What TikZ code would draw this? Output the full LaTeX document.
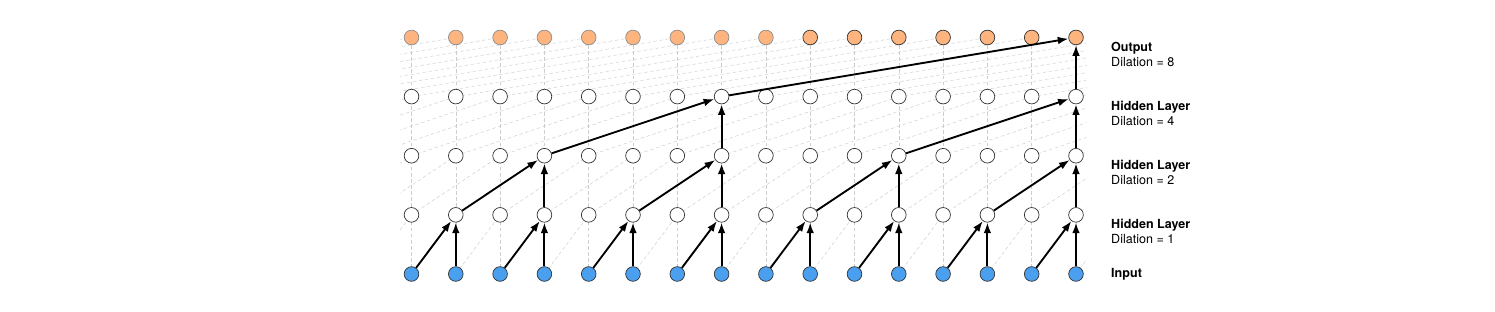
\documentclass[tikz,border=0pt]{standalone}
\usepackage{fontspec}
\setmainfont{TeX Gyre Heros}
\usetikzlibrary{arrows.meta}
\definecolor{inblue}{HTML}{4A9FEE}
\definecolor{outorange}{HTML}{FDB47F}
\definecolor{gridgray}{HTML}{CDCDCD}
\definecolor{rimgray}{HTML}{8C8C8C}
\definecolor{rimdark}{HTML}{333333}
\begin{document}
\begin{tikzpicture}[font=\fontsize{10.7}{12.8}\selectfont,>={Latex[length=3.2mm,width=2.3mm]},
 unit/.style={draw=rimdark,circle,line width=.6pt,minimum size=.44cm,inner sep=0pt,fill=white},
 inunit/.style={unit,fill=inblue},
 outunit/.style={unit,fill=outorange},
 grid line/.style={gridgray,line width=.4pt,dash pattern=on 3pt off 2.2pt},
 link/.style={->,line width=1.6pt},
 layer text/.style={anchor=north west,align=left,inner sep=0pt}]
\useasboundingbox (0,0) rectangle (44.85,9.36);
% dashed background connections, clipped to the node area
\begin{scope}
\clip (12.0,0) rectangle (32.6,9.36);
\foreach \l in {0,...,4}
  \foreach \c in {-8,...,23}
    \coordinate (g\l-\c) at (12.345+1.329*\c,1.14+1.774*\l);
\foreach \c in {0,...,15}
  \draw[grid line] (g0-\c) -- (g4-\c);
\foreach \l/\d in {0/1,1/2,2/4,3/8} {
  \pgfmathtruncatemacro\n{\l+1}
  \foreach \c in {0,...,23} {
    \pgfmathtruncatemacro\s{\c-\d}
    \draw[grid line] (g\l-\s) -- (g\n-\c);
  }
}
\end{scope}
% units
\foreach \c in {0,...,15} {
  \node[inunit] (in-\c) at (g0-\c) {};
  \node[unit] (h1-\c) at (g1-\c) {};
  \node[unit] (h2-\c) at (g2-\c) {};
  \node[unit] (h3-\c) at (g3-\c) {};
}
\foreach \c in {0,...,8}
  \node[outunit,draw=rimgray] (out-\c) at (g4-\c) {};
\foreach \c in {9,...,15}
  \node[outunit] (out-\c) at (g4-\c) {};
% dilated links
\foreach \c in {1,3,...,15} {
  \pgfmathtruncatemacro\s{\c-1}
  \draw[link] (in-\s) -- (h1-\c);
  \draw[link] (in-\c) -- (h1-\c);
}
\foreach \c in {3,7,11,15} {
  \pgfmathtruncatemacro\s{\c-2}
  \draw[link] (h1-\s) -- (h2-\c);
  \draw[link] (h1-\c) -- (h2-\c);
}
\foreach \c in {7,15} {
  \pgfmathtruncatemacro\s{\c-4}
  \draw[link] (h2-\s) -- (h3-\c);
  \draw[link] (h2-\c) -- (h3-\c);
}
\draw[link] (h3-7) -- (out-15);
\draw[link] (h3-15) -- (out-15);
% layer names
\node[layer text] (name-out) at (33.33,8.1) {\textbf{Output}\\Dilation = 8};
\node[layer text] (name-h3) at (33.33,6.33) {\textbf{Hidden Layer}\\Dilation = 4};
\node[layer text] (name-h2) at (33.33,4.56) {\textbf{Hidden Layer}\\Dilation = 2};
\node[layer text] (name-h1) at (33.33,2.78) {\textbf{Hidden Layer}\\Dilation = 1};
\node[anchor=west,inner sep=0pt,font=\fontsize{10.7}{12.8}\selectfont\bfseries] (name-in) at (33.33,1.12) {Input};
\end{tikzpicture}
\end{document}
